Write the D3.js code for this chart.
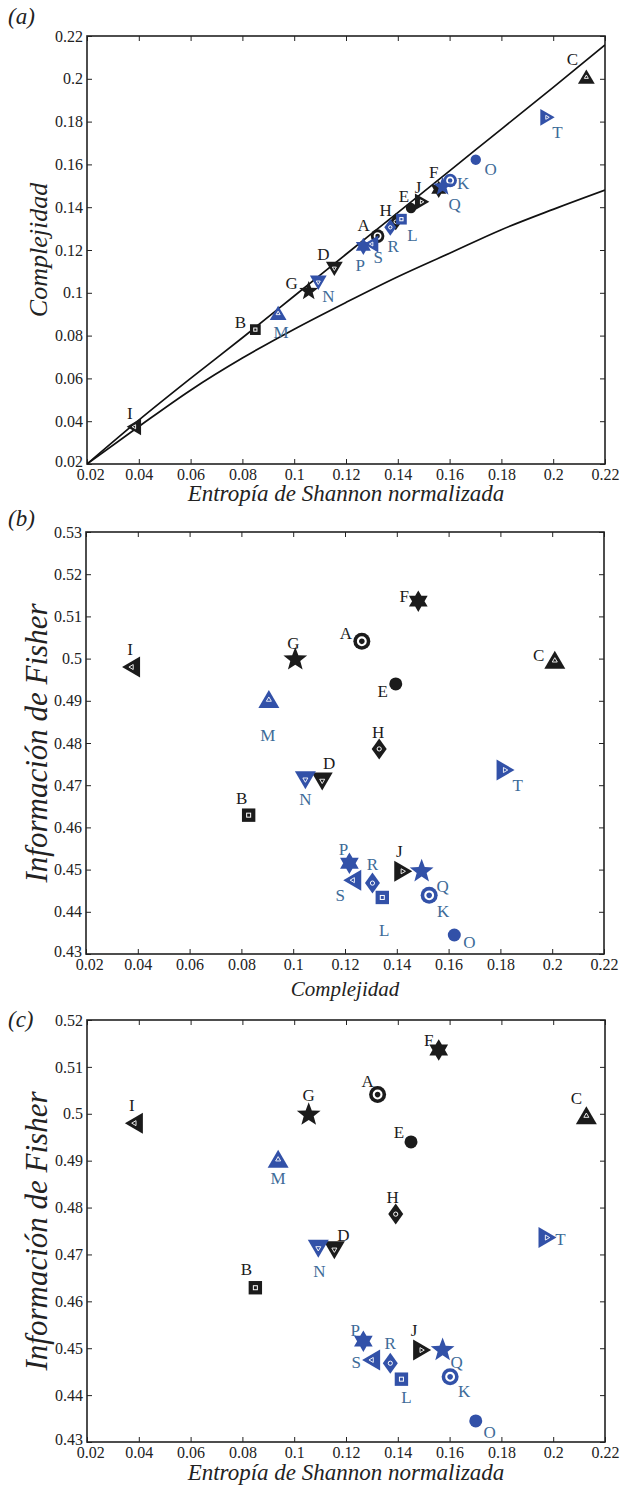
<!DOCTYPE html>
<html><head><meta charset="utf-8">
<script src="https://cdn.jsdelivr.net/npm/d3@7"></script>
<style>body{margin:0;background:#fff}svg{display:block}</style>
</head><body><svg id="chart" width="626" height="1487"></svg>
<script>
// ---------- data ----------
const names = ["A","B","C","D","E","F","G","H","I","J","K","L","M","N","O","P","Q","R","S","T"];
const entropy    = [0.1322,0.0850,0.2128,0.1155,0.1451,0.1558,0.1056,0.1392,0.0381,0.1494,0.1602,0.1414,0.0938,0.1093,0.1701,0.1267,0.1573,0.1371,0.1297,0.1978];
const complexity = [0.1265,0.0828,0.2010,0.1112,0.1396,0.1483,0.1008,0.1332,0.0374,0.1425,0.1525,0.1344,0.0906,0.1047,0.1622,0.1217,0.1496,0.1306,0.1228,0.1820];
const fisher     = [0.5041,0.4629,0.4997,0.4709,0.4940,0.5136,0.4998,0.4786,0.4980,0.4496,0.4439,0.4434,0.4904,0.4712,0.4345,0.4515,0.4496,0.4468,0.4475,0.4736];
const markerKinds = ["ring","square","triUp","triDown","dot","hexagram","pentagram","diamond","triLeft","triRight"];
const groups = ["black","black","black","black","black","black","black","black","black","black",
                "blue","blue","blue","blue","blue","blue","blue","blue","blue","blue"];

const upperEntropy    = [0.02,0.04,0.06,0.08,0.10,0.12,0.14,0.16,0.18,0.20,0.22];
const upperComplexity = [0.02,0.0405,0.0600,0.0790,0.0985,0.1180,0.1375,0.1570,0.1765,0.1960,0.2158];
const lowerEntropy    = [0.02,0.04,0.06,0.08,0.10,0.12,0.14,0.16,0.18,0.20,0.22];
const lowerComplexity = [0.02,0.0375,0.0545,0.0695,0.0830,0.0955,0.1075,0.1185,0.1295,0.1390,0.1480];

const xTicks = [0.02,0.04,0.06,0.08,0.10,0.12,0.14,0.16,0.18,0.20,0.22];
const xTickLabels = ["0.02","0.04","0.06","0.08","0.1","0.12","0.14","0.16","0.18","0.2","0.22"];
const yTicksA = [0.02,0.04,0.06,0.08,0.10,0.12,0.14,0.16,0.18,0.20,0.22];
const yTickLabelsA = ["0.02","0.04","0.06","0.08","0.1","0.12","0.14","0.16","0.18","0.2","0.22"];
const yTicksB = [0.43,0.44,0.45,0.46,0.47,0.48,0.49,0.50,0.51,0.52,0.53];
const yTickLabelsB = ["0.43","0.44","0.45","0.46","0.47","0.48","0.49","0.5","0.51","0.52","0.53"];
const yTicksC = [0.43,0.44,0.45,0.46,0.47,0.48,0.49,0.50,0.51,0.52];
const yTickLabelsC = ["0.43","0.44","0.45","0.46","0.47","0.48","0.49","0.5","0.51","0.52"];

// ---------- layout / style (not data) ----------
const COL = {black:"#1b1b1b", blue:"#3251a8"};
const LABCOL = {black:"#1b1b1b", blue:"#3d6b98"};
const SERIF = "Liberation Serif, Times New Roman, serif";

const labelOffA = {A:[-14,-11],B:[-15,-8],C:[-14,-18],D:[-11,-15],E:[-7,-12],F:[-5,-17],G:[-17,-8],H:[-10,-12],I:[-4,-14],J:[-4,-15],
  K:[13,3],L:[11,16],M:[3,19],N:[10,13],O:[15,9],P:[-3,19],Q:[12,17],R:[3,19],S:[7,13],T:[10,15]};
const labelOffB = {A:[-16,-8],B:[-7,-17],C:[-16,-5],D:[7,-18],E:[-13,7],F:[-14,-5],G:[-2,-16],H:[-1,-17],I:[-1,-18],J:[-4,-20],
  K:[14,16],L:[2,33],M:[-1,36],N:[0,19],O:[15,7],P:[-6,-14],Q:[21,15],R:[0,-19],S:[-12,15],T:[12,15]};
const labelOffC = {A:[-10,-14],B:[-9,-19],C:[-10,-17],D:[9,-15],E:[-12,-10],F:[-10,-10],G:[0,-20],H:[-3,-17],I:[-2,-18],J:[-8,-20],
  K:[14,14],L:[5,18],M:[0,19],N:[1,22],O:[14,11],P:[-8,-11],Q:[14,12],R:[0,-20],S:[-15,2],T:[13,1]};

const points = names.map((n,i)=>({name:n, H:entropy[i], C:complexity[i], F:fisher[i], kind:markerKinds[i%10], group:groups[i]}));

const panels = [
  {tag:"(a)", tagY:24, box:[87,605,36,464], xdom:[0.02,0.22], ydom:[0.02,0.22], xv:"H", yv:"C",
   yTicks:yTicksA, yLabels:yTickLabelsA, xTitle:"Entropía de Shannon normalizada", xTitleY:501, xTitleSize:23,
   yTitle:"Complejidad", yTitleSize:26, ms:0.8, offs:labelOffA, curves:true},
  {tag:"(b)", tagY:526, box:[86,604,532,954], xdom:[0.02,0.22], ydom:[0.43,0.53], xv:"C", yv:"F",
   yTicks:yTicksB, yLabels:yTickLabelsB, xTitle:"Complejidad", xTitleY:996, xTitleSize:21,
   yTitle:"Información de Fisher", yTitleSize:31, ms:1, offs:labelOffB, curves:false},
  {tag:"(c)", tagY:1027, box:[87,605,1020,1442], xdom:[0.02,0.22], ydom:[0.43,0.52], xv:"H", yv:"F",
   yTicks:yTicksC, yLabels:yTickLabelsC, xTitle:"Entropía de Shannon normalizada", xTitleY:1480, xTitleSize:23,
   yTitle:"Información de Fisher", yTitleSize:31, ms:1, offs:labelOffC, curves:false}
];

// ---------- marker shapes ----------
function poly(pts){ return "M"+pts.map(p=>p[0].toFixed(2)+","+p[1].toFixed(2)).join("L")+"Z"; }
function triPts(dir, b, h){
  if(dir==="triUp")   return [[0,-h/2],[b/2,h/2],[-b/2,h/2]];
  if(dir==="triDown") return [[0,h/2],[b/2,-h/2],[-b/2,-h/2]];
  if(dir==="triLeft") return [[-h/2,0],[h/2,-b/2],[h/2,b/2]];
  return [[h/2,0],[-h/2,-b/2],[-h/2,b/2]];
}
function starPts(n, R, r){
  const pts=[];
  for(let k=0;k<2*n;k++){
    const a = -Math.PI/2 + k*Math.PI/n;
    const rad = k%2===0 ? R : r;
    pts.push([rad*Math.cos(a), rad*Math.sin(a)]);
  }
  return pts;
}
function drawMarker(g, kind, color, s){
  if(kind==="ring"){
    g.append("circle").attr("r",8.5*s).attr("fill",color);
    g.append("circle").attr("r",3.9*s).attr("fill","none").attr("stroke","#fff").attr("stroke-width",2.1*s);
  } else if(kind==="dot"){
    g.append("circle").attr("r",6.5*s).attr("fill",color);
  } else if(kind==="square"){
    const h=6.7*s;
    g.append("rect").attr("x",-h).attr("y",-h).attr("width",2*h).attr("height",2*h).attr("fill",color);
    g.append("rect").attr("x",-2*s).attr("y",-2*s).attr("width",4*s).attr("height",4*s).attr("fill","none").attr("stroke","#fff").attr("stroke-width",1);
  } else if(kind.startsWith("tri")){
    g.append("path").attr("d",poly(triPts(kind,21*s,18*s))).attr("fill",color);
    g.append("path").attr("d",poly(triPts(kind,5*s,4.3*s))).attr("fill","none").attr("stroke","#fff").attr("stroke-width",0.9);
  } else if(kind==="diamond"){
    g.append("path").attr("d",poly([[0,-10.5*s],[7.5*s,0],[0,10.5*s],[-7.5*s,0]])).attr("fill",color);
    g.append("circle").attr("r",2.1*s).attr("fill","none").attr("stroke","#fff").attr("stroke-width",1);
  } else if(kind==="hexagram"){
    g.append("path").attr("d",poly(starPts(6,10.8*s,10.8*s*0.577))).attr("fill",color);
  } else if(kind==="pentagram"){
    g.append("path").attr("d",poly(starPts(5,12.5*s,12.5*s*0.42))).attr("fill",color);
  }
}

// ---------- draw ----------
const svg = d3.select("#chart");
svg.append("rect").attr("width",626).attr("height",1487).attr("fill","#fff");

panels.forEach((p,pi)=>{
  const [x0,x1,y0,y1] = p.box;
  const x = d3.scaleLinear().domain(p.xdom).range([x0,x1]);
  const y = d3.scaleLinear().domain(p.ydom).range([y1,y0]);
  const g = svg.append("g");

  const tickLen = 5;
  const fmtX = d => xTickLabels[xTicks.indexOf(d)];
  const fmtY = d => p.yLabels[p.yTicks.indexOf(d)];
  const axB = g.append("g").attr("transform",`translate(0,${y1})`)
     .call(d3.axisBottom(x).tickValues(xTicks).tickFormat(fmtX).tickSizeInner(-tickLen).tickSizeOuter(0).tickPadding(5));
  const axT = g.append("g").attr("transform",`translate(0,${y0})`)
     .call(d3.axisTop(x).tickValues(xTicks).tickFormat("").tickSizeInner(-tickLen).tickSizeOuter(0));
  const axL = g.append("g").attr("transform",`translate(${x0},0)`)
     .call(d3.axisLeft(y).tickValues(p.yTicks).tickFormat(fmtY).tickSizeInner(-tickLen).tickSizeOuter(0).tickPadding(4));
  const axR = g.append("g").attr("transform",`translate(${x1},0)`)
     .call(d3.axisRight(y).tickValues(p.yTicks).tickFormat("").tickSizeInner(-tickLen).tickSizeOuter(0));
  [axB,axT,axL,axR].forEach(a=>{
    a.attr("font-family",SERIF).attr("font-size",16);
    a.select(".domain").remove();
    a.selectAll(".tick line").attr("stroke","#222").attr("stroke-width",1);
    a.selectAll(".tick text").style("font-family",SERIF).style("font-size","16px").attr("fill","#222");
  });
  // nudge the first x label right a little and the lowest y label up, as in the reference corner
  axB.selectAll(".tick text").filter((d,i)=>i===0).attr("dx","0.2em");
  axL.selectAll(".tick text").filter((d,i)=>i===0).attr("dy","0.15em");
  g.append("rect").attr("x",x0).attr("y",y0).attr("width",x1-x0).attr("height",y1-y0)
    .attr("fill","none").attr("stroke","#222").attr("stroke-width",1.6);

  const cid = "clip"+pi;
  svg.append("clipPath").attr("id",cid).append("rect").attr("x",x0).attr("y",y0).attr("width",x1-x0).attr("height",y1-y0);

  if(p.curves){
    const line = d3.line().x(d=>x(d[0])).y(d=>y(d[1])).curve(d3.curveMonotoneX);
    const up = upperEntropy.map((h,i)=>[h,upperComplexity[i]]);
    const lo = lowerEntropy.map((h,i)=>[h,lowerComplexity[i]]);
    [up,lo].forEach(c=>{
      g.append("path").attr("d",line(c)).attr("fill","none")
        .attr("stroke","#111").attr("stroke-width",1.7).attr("clip-path",`url(#${cid})`);
    });
  }

  points.forEach(d=>{
    const mg = g.append("g").attr("transform",`translate(${x(d[p.xv])},${y(d[p.yv])})`);
    drawMarker(mg, d.kind, COL[d.group], p.ms);
  });
  points.forEach(d=>{
    const o = p.offs[d.name];
    g.append("text").attr("x",x(d[p.xv])+o[0]).attr("y",y(d[p.yv])+o[1]).attr("dy","0.35em")
      .attr("text-anchor","middle").style("font-family",SERIF).attr("font-size",17)
      .attr("fill",LABCOL[d.group]).text(d.name);
  });

  g.append("text").attr("x",(x0+x1)/2).attr("y",p.xTitleY).attr("text-anchor","middle")
    .style("font-family",SERIF).attr("font-style","italic").attr("font-size",p.xTitleSize).attr("fill","#222").text(p.xTitle);
  g.append("text").attr("transform",`translate(47,${(y0+y1)/2}) rotate(-90)`).attr("text-anchor","middle")
    .style("font-family",SERIF).attr("font-style","italic").attr("font-size",p.yTitleSize).attr("fill","#222").text(p.yTitle);
  g.append("text").attr("x",8).attr("y",p.tagY)
    .style("font-family",SERIF).attr("font-style","italic").attr("font-size",23).attr("fill","#222").text(p.tag);
});
</script></body></html>
